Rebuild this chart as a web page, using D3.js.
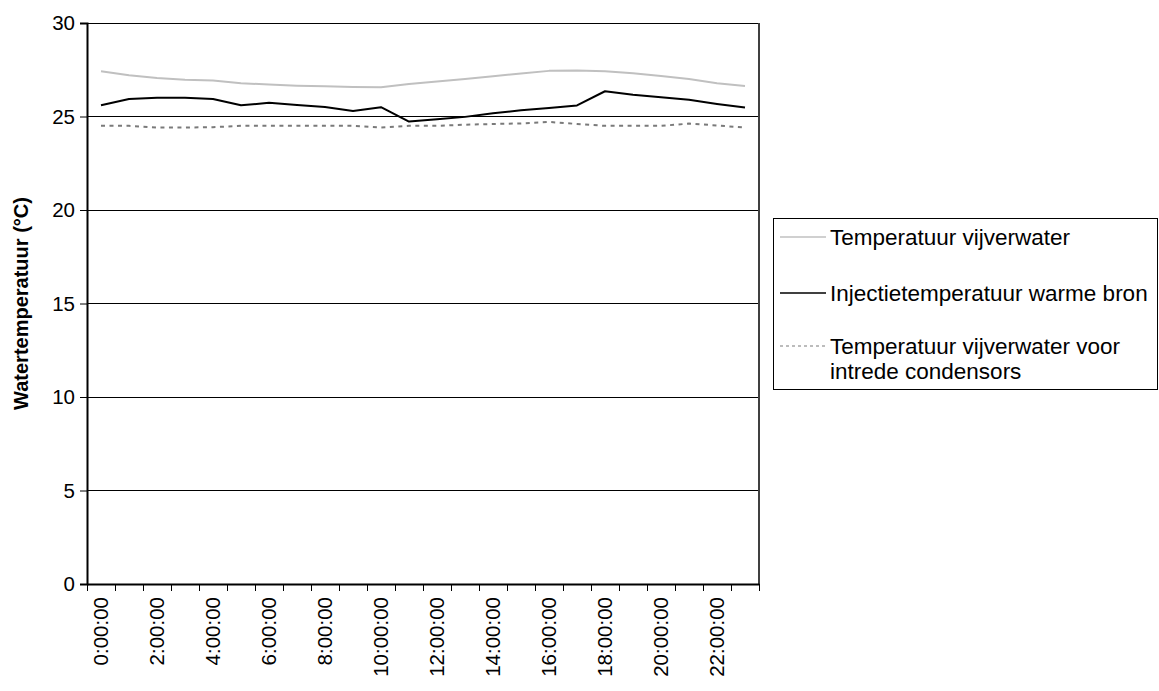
<!DOCTYPE html>
<html>
<head>
<meta charset="utf-8">
<script src="https://cdn.jsdelivr.net/npm/d3@7/dist/d3.min.js"></script>
<style>
  html, body { margin: 0; padding: 0; background: #fff; }
  svg { display: block; font-family: "Liberation Sans", Arial, sans-serif; }
</style>
</head>
<body>
<svg id="chart" width="1159" height="691"></svg>
<script>
// Hourly timestamps over one day
const hours = ["0:00:00","1:00:00","2:00:00","3:00:00","4:00:00","5:00:00","6:00:00","7:00:00",
  "8:00:00","9:00:00","10:00:00","11:00:00","12:00:00","13:00:00","14:00:00","15:00:00",
  "16:00:00","17:00:00","18:00:00","19:00:00","20:00:00","21:00:00","22:00:00","23:00:00"];
// Every other hour is labelled on the axis
const hourLabels = ["0:00:00","2:00:00","4:00:00","6:00:00","8:00:00","10:00:00",
  "12:00:00","14:00:00","16:00:00","18:00:00","20:00:00","22:00:00"];

// Pond water temperature (°C)
const vijverwater = [27.42, 27.2, 27.06, 26.97, 26.92, 26.78, 26.71, 26.65, 26.62, 26.58, 26.56, 26.74,
  26.87, 27.01, 27.15, 27.3, 27.44, 27.46, 27.42, 27.31, 27.17, 27.0, 26.78, 26.63];
// Injection temperature of the warm well (°C)
const injectie = [25.6, 25.94, 26.0, 26.0, 25.94, 25.6, 25.73, 25.62, 25.51, 25.3, 25.5, 24.73,
  24.85, 24.98, 25.18, 25.33, 25.45, 25.59, 26.35, 26.16, 26.03, 25.89, 25.67, 25.48];
// Pond water temperature before entering the condensers (°C)
const voorCondensors = [24.5, 24.5, 24.41, 24.41, 24.43, 24.5, 24.5, 24.5, 24.5, 24.5, 24.41, 24.5,
  24.5, 24.56, 24.6, 24.63, 24.71, 24.6, 24.5, 24.5, 24.5, 24.62, 24.52, 24.41];

const yTicks = [0, 5, 10, 15, 20, 25, 30];

const series = [
  { name: ["Temperatuur vijverwater"], values: vijverwater, color: "#c0c0c0", width: 2, dash: null },
  { name: ["Injectietemperatuur warme bron"], values: injectie, color: "#000000", width: 2, dash: null },
  { name: ["Temperatuur vijverwater voor", "intrede condensors"], values: voorCondensors, color: "#7a7a7a", width: 2, dash: "4,4.5" }
];

const svg = d3.select("#chart");
const plot = { left: 87, top: 23, right: 759, bottom: 584 };

const x = d3.scaleBand().domain(hours).range([plot.left, plot.right]).padding(0);
const y = d3.scaleLinear().domain([0, 30]).range([plot.bottom, plot.top]);
const cx = d => x(d) + x.bandwidth() / 2;

// Horizontal grid lines
svg.append("g")
  .selectAll("line")
  .data(yTicks.filter(t => t > 0))
  .join("line")
  .attr("x1", plot.left).attr("x2", plot.right)
  .attr("y1", d => y(d)).attr("y2", d => y(d))
  .attr("stroke", "#000").attr("stroke-width", 1)
  .attr("shape-rendering", "crispEdges");

// Right border of the plot area
svg.append("line")
  .attr("x1", plot.right).attr("x2", plot.right)
  .attr("y1", plot.top).attr("y2", plot.bottom)
  .attr("stroke", "#404040").attr("stroke-width", 2);

// Y axis
const yAxis = svg.append("g")
  .attr("transform", `translate(${plot.left},0)`)
  .call(d3.axisLeft(y).tickValues(yTicks).tickSize(7).tickPadding(5));
yAxis.select(".domain").attr("stroke", "#000").attr("stroke-width", 2);
yAxis.selectAll(".tick line").attr("stroke", "#000").attr("stroke-width", 1);
yAxis.selectAll(".tick text").attr("font-size", 20.5).attr("fill", "#000")
  .attr("font-family", "Liberation Sans, Arial, sans-serif");

// X axis: tick marks at the hour boundaries, labels at every other hour
const xAxis = svg.append("g")
  .attr("transform", `translate(0,${plot.bottom})`)
  .call(d3.axisBottom(x).tickValues(hourLabels).tickSize(0).tickPadding(0));
xAxis.select(".domain").attr("stroke", "#000").attr("stroke-width", 2);
xAxis.selectAll(".tick text")
  .attr("font-size", 20.5).attr("fill", "#000")
  .attr("font-family", "Liberation Sans, Arial, sans-serif")
  .attr("transform", "rotate(-90)")
  .attr("text-anchor", "end")
  .attr("x", -13).attr("y", 0).attr("dy", "0.35em");

const boundaries = hours.map(h => x(h)).concat([plot.right]);
svg.append("g")
  .selectAll("line")
  .data(boundaries)
  .join("line")
  .attr("x1", d => d).attr("x2", d => d)
  .attr("y1", plot.bottom).attr("y2", plot.bottom + 7)
  .attr("stroke", "#000").attr("stroke-width", 1)
  .attr("shape-rendering", "crispEdges");

// Y axis title
svg.append("text")
  .attr("transform", `translate(28,${(plot.top + plot.bottom) / 2}) rotate(-90)`)
  .attr("text-anchor", "middle")
  .attr("font-size", 20).attr("font-weight", "bold")
  .text("Watertemperatuur (°C)");

// Data lines
const line = d3.line().x((d, i) => cx(hours[i])).y(d => y(d));
svg.append("g")
  .selectAll("path")
  .data(series)
  .join("path")
  .attr("d", d => line(d.values))
  .attr("fill", "none")
  .attr("stroke", d => d.color)
  .attr("stroke-width", d => d.width)
  .attr("stroke-dasharray", d => d.dash)
  .attr("stroke-linejoin", "round");

// Legend
const legend = svg.append("g").attr("transform", "translate(773,218)");
legend.append("rect")
  .attr("x", 0.5).attr("y", 0.5).attr("width", 384).attr("height", 171)
  .attr("fill", "#fff").attr("stroke", "#000").attr("stroke-width", 1);
const rowY = [19, 75, 128];
series.forEach((s, i) => {
  const g = legend.append("g").attr("transform", `translate(0,${rowY[i]})`);
  g.append("line")
    .attr("x1", 7).attr("x2", 53).attr("y1", 0).attr("y2", 0)
    .attr("stroke", s.color).attr("stroke-width", s.dash ? 1.2 : 1.5)
    .attr("stroke-dasharray", s.dash ? "3,3" : null);
  s.name.forEach((t, j) => {
    g.append("text")
      .attr("x", 57).attr("y", 8 + j * 25)
      .attr("font-size", 22.5).attr("fill", "#000")
      .text(t);
  });
});
</script>
</body>
</html>
